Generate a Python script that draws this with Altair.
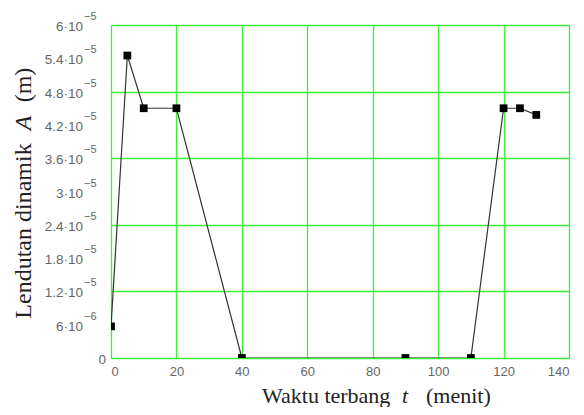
import altair as alt
import pandas as pd

t_min = [0, 5, 10, 20, 40, 90, 110, 120, 125, 130]
deflection = [5.7e-6, 5.45e-5, 4.5e-5, 4.5e-5, 0, 0, 0, 4.5e-5, 4.5e-5, 4.38e-5]

y_ticks = [6e-6, 1.2e-5, 1.8e-5, 2.4e-5, 3e-5, 3.6e-5, 4.2e-5, 4.8e-5, 5.4e-5, 6e-5]
y_mantissa = ["6·10", "1.2·10", "1.8·10", "2.4·10", "3·10", "3.6·10",
              "4.2·10", "4.8·10", "5.4·10", "6·10"]
y_exponent = ["−6", "−5", "−5", "−5", "−5", "−5", "−5", "−5", "−5", "−5"]
x_ticks = [0, 20, 40, 60, 80, 100, 120, 140]

df = pd.DataFrame({"t": t_min, "A": deflection})
lab = pd.DataFrame({"v": y_ticks, "m": y_mantissa, "e": y_exponent})
zero = pd.DataFrame({"v": [0.0], "m": ["0"]})

xs = alt.Scale(domain=[0, 140], nice=False)
ys = alt.Scale(domain=[0, 6e-5], nice=False)
GRID = "#3cee3c"

x_enc = alt.X("t:Q", scale=xs,
              axis=alt.Axis(values=x_ticks, title=None,
                            labelFont="Liberation Sans", labelFontSize=13,
                            labelColor="#666", labelPadding=7,
                            ticks=False, domain=False,
                            gridColor=GRID, gridWidth=1.3, gridOpacity=1))
y_enc = alt.Y("A:Q", scale=ys,
              axis=alt.Axis(values=[0] + y_ticks, title=None, labels=False,
                            ticks=False, domain=False,
                            gridColor=GRID, gridWidth=1.3, gridOpacity=1))

line = alt.Chart(df).mark_line(color="#333", strokeWidth=1.2, clip=True).encode(x=x_enc, y=y_enc)
pts = alt.Chart(df).mark_square(color="black", size=60, opacity=1, clip=True).encode(x="t:Q", y="A:Q")

mant = alt.Chart(lab).mark_text(align="right", baseline="middle", dy=2,
                                font="Liberation Sans", fontSize=13.5, color="#666").encode(
    y=alt.Y("v:Q", scale=ys), x=alt.value(-28), text="m:N")
expo = alt.Chart(lab).mark_text(align="left", baseline="middle", dy=-8,
                                font="Liberation Sans", fontSize=11, color="#666").encode(
    y=alt.Y("v:Q", scale=ys), x=alt.value(-27), text="e:N")
zlab = alt.Chart(zero).mark_text(align="right", baseline="middle", dy=2,
                                 font="Liberation Sans", fontSize=13.5, color="#666").encode(
    y=alt.Y("v:Q", scale=ys), x=alt.value(-5), text="m:N")

xserif = dict(font="Liberation Serif", fontSize=22, color="#222", baseline="alphabetic")
yserif = dict(font="Liberation Serif", fontSize=24, color="#222", baseline="alphabetic")
one = pd.DataFrame({"k": [0]})
xt1 = alt.Chart(one).mark_text(align="left", text="Waktu terbang", **xserif).encode(
    x=alt.value(151), y=alt.value(378))
xt2 = alt.Chart(one).mark_text(align="left", text="t", fontStyle="italic", **xserif).encode(
    x=alt.value(291), y=alt.value(378))
xt3 = alt.Chart(one).mark_text(align="left", text="(menit)", **xserif).encode(
    x=alt.value(315), y=alt.value(378))
yt1 = alt.Chart(one).mark_text(align="center", angle=270, text="Lendutan dinamik", **yserif).encode(
    x=alt.value(-80), y=alt.value(206))
yt2 = alt.Chart(one).mark_text(align="center", angle=270, text="A", fontStyle="italic", **yserif).encode(
    x=alt.value(-80), y=alt.value(98))
yt3 = alt.Chart(one).mark_text(align="center", angle=270, text="(m)", **yserif).encode(
    x=alt.value(-80), y=alt.value(60))

chart = alt.layer(line, pts, mant, expo, zlab, xt1, xt2, xt3, yt1, yt2, yt3).properties(
    width=458, height=333,
    autosize=alt.AutoSizeParams(type="none"),
    padding={"left": 103, "top": 17, "right": 7, "bottom": 49},
).configure_view(stroke="#555", strokeWidth=1.5).configure(background="white")

chart.save("out.html", embed_options={"renderer": "svg", "actions": False})
